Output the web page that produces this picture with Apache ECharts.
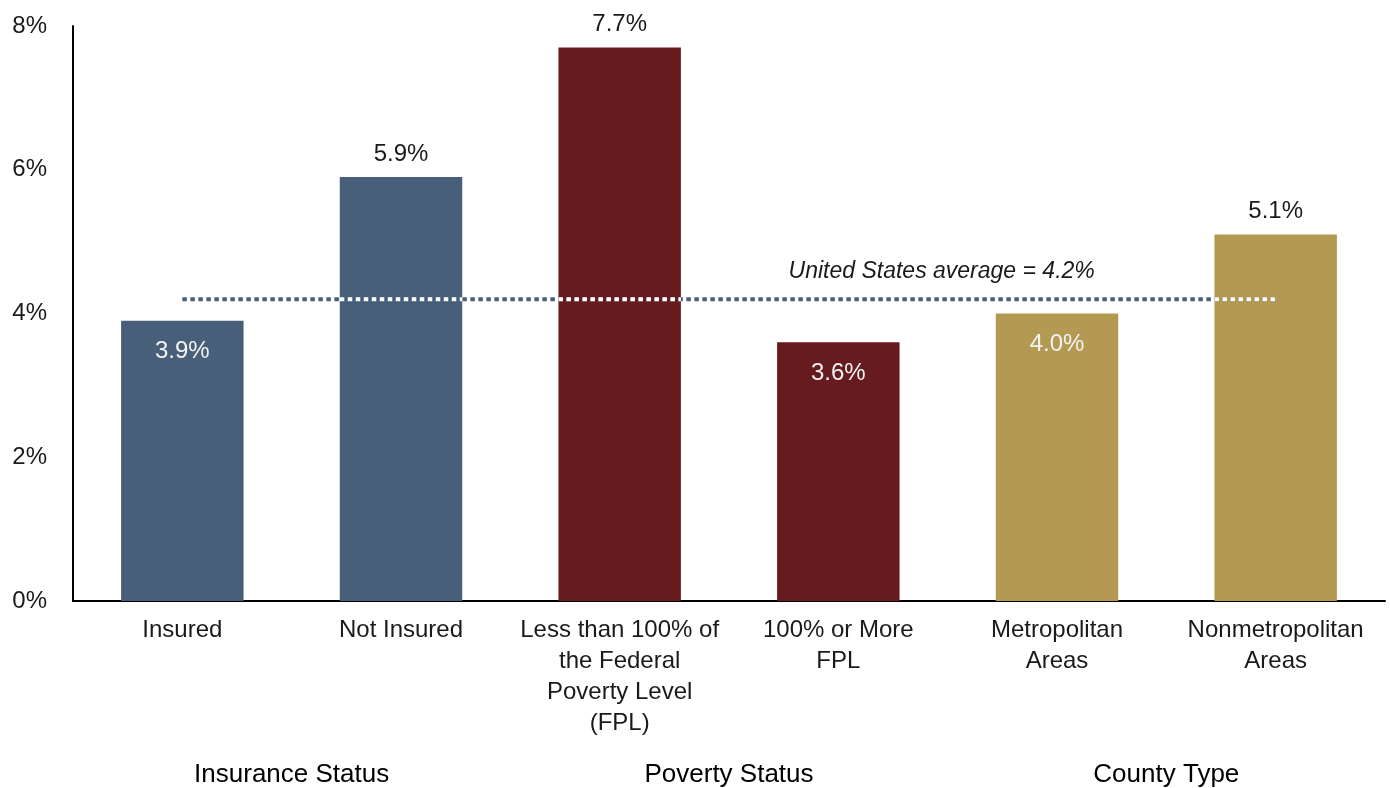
<!DOCTYPE html>
<html>
<head>
<meta charset="utf-8">
<title>Rates by Insurance Status, Poverty Status and County Type</title>
<script src="https://cdn.jsdelivr.net/npm/echarts@6/dist/echarts.min.js"></script>
<style>
  html, body { margin: 0; padding: 0; background: #ffffff; }
  #chart { width: 1390px; height: 788px; }
</style>
</head>
<body>
<div id="chart"></div>
<script>
// Categories along the x axis (line breaks as drawn under the bars)
const categories = [
  'Insured',
  'Not Insured',
  'Less than 100% of\nthe Federal\nPoverty Level\n(FPL)',
  '100% or More\nFPL',
  'Metropolitan\nAreas',
  'Nonmetropolitan\nAreas'
];
// Rate for each category, in percent
const rates = [3.9, 5.9, 7.7, 3.6, 4.0, 5.1];
// Which group each category belongs to (index into groups)
const groupOf = [0, 0, 1, 1, 2, 2];
// Group captions shown beneath the category labels
const groups = ['Insurance Status', 'Poverty Status', 'County Type'];
// National reference value
const usAverage = 4.2;
const averageLabel = 'United States average = 4.2%';
// Y axis range
const yMin = 0;
const yMax = 8;
const yStep = 2;

const groupColors = ['#475f78', '#661b1e', '#b39952'];
const FONT = '"Liberation Sans", Arial, Helvetica, sans-serif';
const BAR_FRACTION = 0.56;

const chart = echarts.init(document.getElementById('chart'));

const barData = rates.map(function (v, i) {
  const inside = v < usAverage;
  return {
    value: v,
    itemStyle: { color: groupColors[groupOf[i]] },
    label: inside
      ? { position: 'insideTop', distance: 19, color: '#f2f2f2' }
      : { position: 'top', distance: 11, color: '#1a1a1a' }
  };
});

function renderAverage(params, api) {
  const start = api.coord([0, usAverage]);
  const end = api.coord([categories.length - 1, usAverage]);
  const band = api.size([1, 0])[0];
  const half = band * BAR_FRACTION / 2;
  const dotted = { lineWidth: 4, lineDash: [4.5, 3.5], lineCap: 'butt' };
  const children = [{
    type: 'line',
    shape: { x1: start[0], y1: start[1], x2: end[0], y2: end[1] },
    style: Object.assign({ stroke: '#475f78' }, dotted)
  }];
  rates.forEach(function (v, i) {
    if (v > usAverage) {
      const c = api.coord([i, usAverage]);
      const x0 = Math.max(c[0] - half, start[0]);
      const x1 = Math.min(c[0] + half, end[0]);
      children.push({
        type: 'line',
        shape: { x1: x0, y1: c[1], x2: x1, y2: c[1] },
        style: Object.assign({ stroke: '#ffffff' }, dotted)
      });
    }
  });
  // caption sits between the 4th and 5th categories, just above the line
  const left = api.coord([3, usAverage]);
  const right = api.coord([4, usAverage]);
  const midX = (left[0] + right[0]) / 2;
  children.push({
    type: 'text',
    style: {
      x: midX - 6,
      y: left[1] - 28,
      text: averageLabel,
      fill: '#1a1a1a',
      font: 'italic 23px ' + FONT,
      textAlign: 'center',
      textVerticalAlign: 'middle',
      align: 'center',
      verticalAlign: 'middle'
    }
  });
  return { type: 'group', children: children };
}

chart.setOption({
  animation: false,
  backgroundColor: '#ffffff',
  grid: { left: 73, right: 5, top: 26, bottom: 187, containLabel: false },
  xAxis: [
    {
      type: 'category',
      data: categories,
      axisLine: { show: true, lineStyle: { color: '#000000', width: 2 } },
      axisTick: { show: false },
      axisLabel: {
        interval: 0,
        margin: 14,
        color: '#1a1a1a',
        fontFamily: FONT,
        fontSize: 24,
        lineHeight: 31
      },
      splitLine: { show: false }
    },
    {
      type: 'category',
      data: groups,
      position: 'bottom',
      offset: 161,
      axisLine: { show: false },
      axisTick: { show: false },
      axisLabel: {
        interval: 0,
        color: '#000000',
        fontFamily: FONT,
        fontSize: 26,
        margin: 0
      },
      splitLine: { show: false }
    }
  ],
  yAxis: {
    type: 'value',
    min: yMin,
    max: yMax,
    interval: yStep,
    axisLine: { show: true, lineStyle: { color: '#000000', width: 2 } },
    axisTick: { show: false },
    splitLine: { show: false },
    axisLabel: {
      margin: 26,
      color: '#1a1a1a',
      fontFamily: FONT,
      fontSize: 24,
      formatter: function (v) { return v + '%'; }
    }
  },
  series: [
    {
      type: 'bar',
      xAxisIndex: 0,
      data: barData,
      barWidth: (BAR_FRACTION * 100) + '%',
      label: {
        show: true,
        fontFamily: FONT,
        fontSize: 24,
        formatter: function (p) { return p.value.toFixed(1) + '%'; }
      }
    },
    {
      type: 'custom',
      xAxisIndex: 0,
      renderItem: renderAverage,
      data: [[0, usAverage]],
      clip: false,
      z: 5,
      silent: true
    }
  ]
});
</script>
</body>
</html>
